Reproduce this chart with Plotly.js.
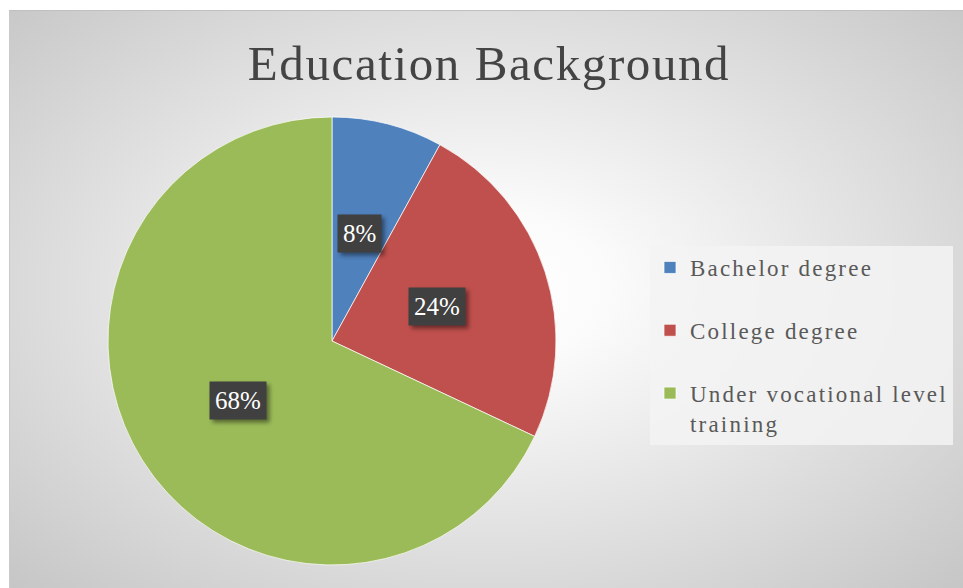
<!DOCTYPE html>
<html>
<head>
<meta charset="utf-8">
<script src="https://cdn.plot.ly/plotly-3.0.1.min.js"></script>
<style>
  html, body { margin: 0; padding: 0; background: #ffffff; }
  #panel {
    position: absolute; left: 9px; top: 10px; width: 954px; height: 578px;
    background: radial-gradient(ellipse farthest-corner at 50% 48%, #ffffff 0%, #fbfbfb 18%, #c6c6c6 100%);
    border-top: 1px solid #c0c0c0; border-left: 1px solid #cacaca;
    box-sizing: border-box;
  }
  #chart { position: absolute; left: 0; top: 0; width: 963px; height: 588px; }
  .legendtext { letter-spacing: 2.2px; }
  .gtitle { letter-spacing: 1.6px; }
  .annotation-text-g rect.bg { filter: drop-shadow(3px 3px 2px rgba(0,0,0,0.45)); }
</style>
</head>
<body>
<div id="panel"></div>
<div id="chart"></div>
<script>
// ---- data ----
const categories = ["Bachelor degree", "College degree", "Under vocational level training"];
const legendLabels = ["Bachelor degree<br> ", "College degree<br> ", "Under vocational level<br>training"];
const values = [8, 24, 68];
const sliceColors = ["#4F81BD", "#C0504D", "#9BBB59"];
const chartTitle = "Education Background";

// ---- layout geometry ----
const W = 963, H = 588;
const domX = [108 / W, 556 / W];
const domY = [1 - 565 / H, 1 - 117 / H];

const trace = {
  type: "pie",
  labels: legendLabels,
  values: values,
  sort: false,
  direction: "clockwise",
  rotation: 0,
  textinfo: "none",
  hoverinfo: "label+percent",
  marker: { colors: sliceColors, line: { color: "rgba(255,255,255,0.7)", width: 1 } },
  domain: { x: domX, y: domY }
};

// label annotations placed at slice mid-angles (computed from the values)
const total = values.reduce((a, b) => a + b, 0);
const cxPx = (domX[0] + domX[1]) / 2 * W;
const cyPx = (1 - (domY[0] + domY[1]) / 2) * H;
const rPx = Math.min((domX[1] - domX[0]) * W, (domY[1] - domY[0]) * H) / 2;
const frac = 0.495;
const annotations = [];
let cum = 0;
values.forEach((v, i) => {
  const mid = (cum + v / 2) / total * 2 * Math.PI;
  cum += v;
  const px = cxPx + frac * rPx * Math.sin(mid);
  const py = cyPx - frac * rPx * Math.cos(mid);
  const pct = Math.round(v / total * 100) + "%";
  annotations.push({
    x: px / W, y: 1 - py / H, xref: "paper", yref: "paper",
    xanchor: "center", yanchor: "middle",
    showarrow: false, text: pct, borderpad: 5,
    bgcolor: "#404040",
    font: { family: "Liberation Serif, serif", size: 25, color: "#ffffff" }
  });
});

const layout = {
  width: W, height: H,
  margin: { l: 0, r: 0, t: 0, b: 0 },
  paper_bgcolor: "rgba(0,0,0,0)",
  plot_bgcolor: "rgba(0,0,0,0)",
  title: {
    text: chartTitle,
    x: 489 / W, xanchor: "center",
    y: 1 - 63 / H, yanchor: "middle",
    font: { family: "Liberation Serif, serif", size: 49, color: "#444444" }
  },
  showlegend: true,
  legend: {
    x: 650 / W, xanchor: "left",
    y: 1 - 246 / H, yanchor: "top",
    bgcolor: "rgba(243,243,243,0.85)",
    valign: "top",
    font: { family: "Liberation Serif, serif", size: 23, color: "#595959" },
    itemwidth: 30
  },
  annotations: annotations
};

Plotly.newPlot("chart", [trace], layout, { displayModeBar: false, staticPlot: true });
</script>
</body>
</html>
